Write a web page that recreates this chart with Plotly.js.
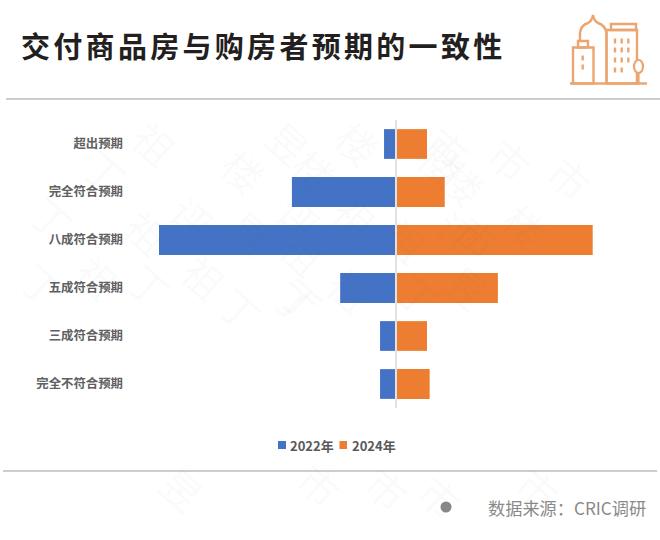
<!DOCTYPE html>
<html>
<head>
<meta charset="utf-8">
<script src="https://cdn.plot.ly/plotly-3.0.1.min.js"></script>
<style>
html,body{margin:0;padding:0;background:#fff;}
#chart{width:660px;height:540px;}
.gtitle{letter-spacing:3.3px;}
</style>
</head>
<body>
<div id="chart"></div>
<script>
const chartTitle = "交付商品房与购房者预期的一致性";
const sourceText = "数据来源：CRIC调研";
const categories = ["超出预期","完全符合预期","八成符合预期","五成符合预期","三成符合预期","完全不符合预期"];
const seriesNames = ["2022年","2024年"];
const values2022 = [-2.7,-23.5,-53.5,-12.6,-3.6,-3.6];
const values2024 = [7,11,44.4,23,7,7.6];
const seriesColors = ["#4472c4","#ed7d31"];
const wmChars = ["祖","昱","楼","楼","市","丁","楼","楼","评","评","丁","祖","昱","祖","祖","祖","丁","丁","丁","丁","楼","市","楼","市","评","市","祖","祖","昱","祖","丁","丁","昱","市","市","市","市"];
const wmX = [118,252,358,441,547,68,207,315,155,262,15,110,213,302,60,167,258,5,112,203,500,607,562,448,457,515,355,405,467,350,302,418,145,282,387,575,477];
const wmY = [105,105,105,125,122,133,133,133,180,180,180,232,232,253,277,277,302,323,323,347,145,140,188,110,195,237,217,240,287,290,337,333,527,523,527,527,535];

const L=127,R=640,T=120,B=408;
const px=x=>(x-L)/(R-L), py=y=>(B-y)/(B-T);
const lineShape=(x0,y0,x1,y1,color,width)=>({type:'line',xref:'paper',yref:'paper',x0:px(x0),y0:py(y0),x1:px(x1),y1:py(y1),line:{color:color,width:width}});
const ic="#eda56f";
const rectShape=(x0,y0,x1,y1)=>({type:'rect',xref:'paper',yref:'paper',x0:px(x0),y0:py(y0),x1:px(x1),y1:py(y1),line:{color:ic,width:2.4}});
const pathShape=pts=>({type:'path',xref:'paper',yref:'paper',path:pts.map(p=>{
  if(typeof p==='string')return p;
  return px(p[0]).toFixed(4)+','+py(p[1]).toFixed(4);
}).join(' '),line:{color:ic,width:2.4}});

const shapes=[
  lineShape(6,99,660,99,"#bdbdbd",1.3),
  lineShape(3,471,657,471,"#bdbdbd",1.3),
  {type:'line',layer:'above',xref:'x',yref:'paper',x0:0,x1:0,y0:0,y1:1,line:{color:"#e2e2e2",width:2}},
  lineShape(570,83.5,647,83.5,ic,2.4),
  rectShape(573,47.5,593.5,83.5),
  rectShape(578,41,588,47.5),
  pathShape(['M',[580,41],'L',[580,33],'Q',[581,25],[588,23],'Q',[592,21],[593,15],'Q',[594,21],[598,23],'Q',[605,25],[606.5,33],'L',[606.5,83.5]]),
  rectShape(606.5,30,637,83.5),
  rectShape(611,24,636,30),
  {type:'circle',xref:'paper',yref:'paper',x0:px(634),x1:px(643),y0:py(60),y1:py(73),fillcolor:'#ffffff',line:{color:ic,width:2.2}},
  lineShape(638.5,73,638.5,83.5,ic,2.2),
  {type:'circle',xref:'paper',yref:'paper',x0:px(440.5),x1:px(451.5),y0:py(501.5),y1:py(512.5),fillcolor:'#888888',line:{width:0}},
  {type:'rect',xref:'paper',yref:'paper',x0:px(278),x1:px(286),y0:py(441),y1:py(449),fillcolor:seriesColors[0],line:{width:0}},
  {type:'rect',xref:'paper',yref:'paper',x0:px(339.5),x1:px(347),y0:py(441),y1:py(449),fillcolor:seriesColors[1],line:{width:0}}
];
[[615,41],[621.7,41],[628.3,41],[615,50],[621.7,50],[628.3,50],[615,60],[621.7,60],[628.3,60],[615,70],[621.7,70],[582.7,58],[582.7,67]].forEach(w=>{
  shapes.push(lineShape(w[0],w[1]-2.5,w[0],w[1]+2.5,ic,2.4));
});

const annotations=[];
wmChars.forEach((c,i)=>annotations.push({text:c,xref:'paper',yref:'paper',x:px(wmX[i]),y:py(wmY[i]),showarrow:false,textangle:42,
  font:{family:'"Noto Sans CJK SC"',size:40,color:'rgba(110,110,110,0.04)'}}));
const txt=(t,x,y,size,color,weight)=>({text:t,xref:'paper',yref:'paper',x:px(x),y:py(y),xanchor:'left',yanchor:'middle',showarrow:false,
  font:{family:'"Noto Sans CJK SC"',size:size,color:color,weight:weight}});
annotations.push(txt(seriesNames[0],288,445,13,"#595959",700));
annotations.push(txt(seriesNames[1],350,445,13,"#595959",700));
annotations.push(txt(sourceText,486,507,17.2,"#8a8a8a",400));

const traces=[
  {type:'bar',orientation:'h',name:seriesNames[0],y:categories,x:values2022,marker:{color:seriesColors[0]},hoverinfo:'y+x'},
  {type:'bar',orientation:'h',name:seriesNames[1],y:categories,x:values2024,marker:{color:seriesColors[1]},hoverinfo:'y+x'}
];
const layout={
  width:660,height:540,
  margin:{l:L,r:660-R,t:T,b:540-B,pad:0},
  paper_bgcolor:'#ffffff',plot_bgcolor:'rgba(0,0,0,0)',
  title:{text:chartTitle,xref:'container',yref:'container',x:21/660,xanchor:'left',y:1-48/540,yanchor:'middle',
    font:{family:'"Noto Sans CJK SC"',size:29,color:'#231f20',weight:700}},
  barmode:'relative',bargap:0.38,showlegend:false,
  xaxis:{range:[-269/4.43,244/4.43],visible:false,showgrid:false,zeroline:false,fixedrange:true},
  yaxis:{type:'category',autorange:'reversed',showgrid:false,zeroline:false,showline:false,ticks:'',ticklen:0,ticklabelstandoff:3,
    tickfont:{family:'"Noto Sans CJK SC"',size:12.4,color:'#606060',weight:700},fixedrange:true},
  shapes:shapes,annotations:annotations
};
Plotly.newPlot('chart',traces,layout,{displayModeBar:false,staticPlot:true});
</script>
</body>
</html>
